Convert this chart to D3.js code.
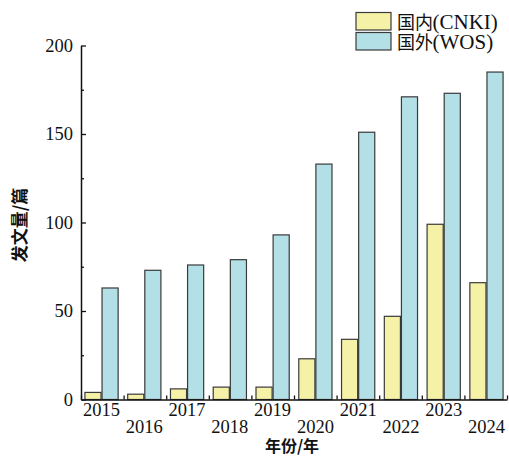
<!DOCTYPE html>
<html><head><meta charset="utf-8">
<script src="https://cdn.jsdelivr.net/npm/d3@7"></script>
<style>
body{margin:0;background:#fff;}
text{fill:#111;}
</style></head>
<body><svg id="c" width="509" height="457"></svg>
<script>
const years = ["2015","2016","2017","2018","2019","2020","2021","2022","2023","2024"];
const seriesCJK = ["国内","国外"];
const seriesLat = ["(CNKI)","(WOS)"];
const cnki = [4,3,6,7,7,23,34,47,99,66];
const wos = [63,73,76,79,93,133,151,171,173,185];
const yTicks = [0,50,100,150,200];
const yMinor = [25,75,125,175];
const colors = ["#f5f1a7","#b3dfe6"];
const strokeC = "#3a3a3a";
const CJK = "Noto Sans CJK SC";
const LAT = "Liberation Serif";

const svg = d3.select("#c");
const L = 81, R = 507, T = 45.5, B = 399.5;
const x = d3.scaleBand().domain(years).range([L,R]).paddingInner(0.2).paddingOuter(0.08);
const xs = d3.scaleBand().domain([0,1]).range([0,x.bandwidth()]);
const y = d3.scaleLinear().domain([0,200]).range([B,T]);

const data = years.map((yr,i)=>({yr, vals:[cnki[i],wos[i]]}));

const g = svg.append("g");
g.selectAll("g.grp").data(data).join("g").attr("class","grp")
 .attr("transform",d=>`translate(${x(d.yr)},0)`)
 .selectAll("rect").data(d=>d.vals.map((v,k)=>({v,k}))).join("rect")
 .attr("x",d=>xs(d.k)+0.5).attr("width",xs.bandwidth()-1)
 .attr("y",d=>y(d.v)).attr("height",d=>y(0)-y(d.v))
 .attr("fill",d=>colors[d.k]).attr("stroke",strokeC).attr("stroke-width",1.2);

// y axis
const ya = svg.append("g").attr("transform",`translate(${L},0)`)
 .call(d3.axisLeft(y).tickValues(yTicks).tickSize(-5).tickPadding(8).tickSizeOuter(0));
ya.attr("font-family",LAT).attr("font-size",18.5);
ya.selectAll("text").attr("fill","#111");
ya.select(".domain").attr("stroke","#111").attr("stroke-width",1.5);
ya.selectAll(".tick line").attr("stroke","#111").attr("stroke-width",1.3);
svg.append("g").attr("transform",`translate(${L},0)`)
 .call(d3.axisLeft(y).tickValues(yMinor).tickSize(-3).tickFormat("").tickSizeOuter(0))
 .call(s=>{s.select(".domain").remove(); s.selectAll("line").attr("stroke","#111").attr("stroke-width",1.3);});

// x axis
const xb = d3.scaleLinear().domain([0,years.length]).range([L,R]);
const xa = svg.append("g").attr("transform",`translate(0,${B})`)
 .call(d3.axisBottom(xb).ticks(years.length).tickSize(-4).tickFormat("").tickSizeOuter(0));
xa.select(".domain").attr("stroke","#111").attr("stroke-width",1.5);
xa.selectAll(".tick line").attr("stroke","#111").attr("stroke-width",1.3);

svg.append("g").attr("font-family",LAT).attr("font-size",18.5)
 .selectAll("text").data(years).join("text")
 .attr("x",d=>x(d)+x.bandwidth()/2)
 .attr("y",(d,i)=> i%2===0 ? 415.5 : 432.5)
 .attr("text-anchor","middle").text(d=>d);

// titles
svg.append("text").attr("x",292).attr("y",452).attr("text-anchor","middle")
 .attr("font-family",CJK).attr("font-size",16).attr("font-weight","bold").text("年份/年");
svg.append("text").attr("transform","translate(26,225) rotate(-90)").attr("text-anchor","middle")
 .attr("font-family",CJK).attr("font-size",17).attr("font-weight","bold").text("发文量/篇");

// legend
const lg = svg.append("g").selectAll("g").data(seriesCJK).join("g")
 .attr("transform",(d,i)=>`translate(356,${12.5+i*20})`);
lg.append("rect").attr("width",35).attr("height",17.5)
 .attr("fill",(d,i)=>colors[i]).attr("stroke",strokeC).attr("stroke-width",1.2);
lg.append("text").attr("x",41).attr("y",16).attr("font-family",CJK).attr("font-size",18).text(d=>d);
lg.append("text").attr("x",41+35.5).attr("y",16.5).attr("font-family",LAT).attr("font-size",21)
 .text((d,i)=>seriesLat[i]);
</script></body></html>
